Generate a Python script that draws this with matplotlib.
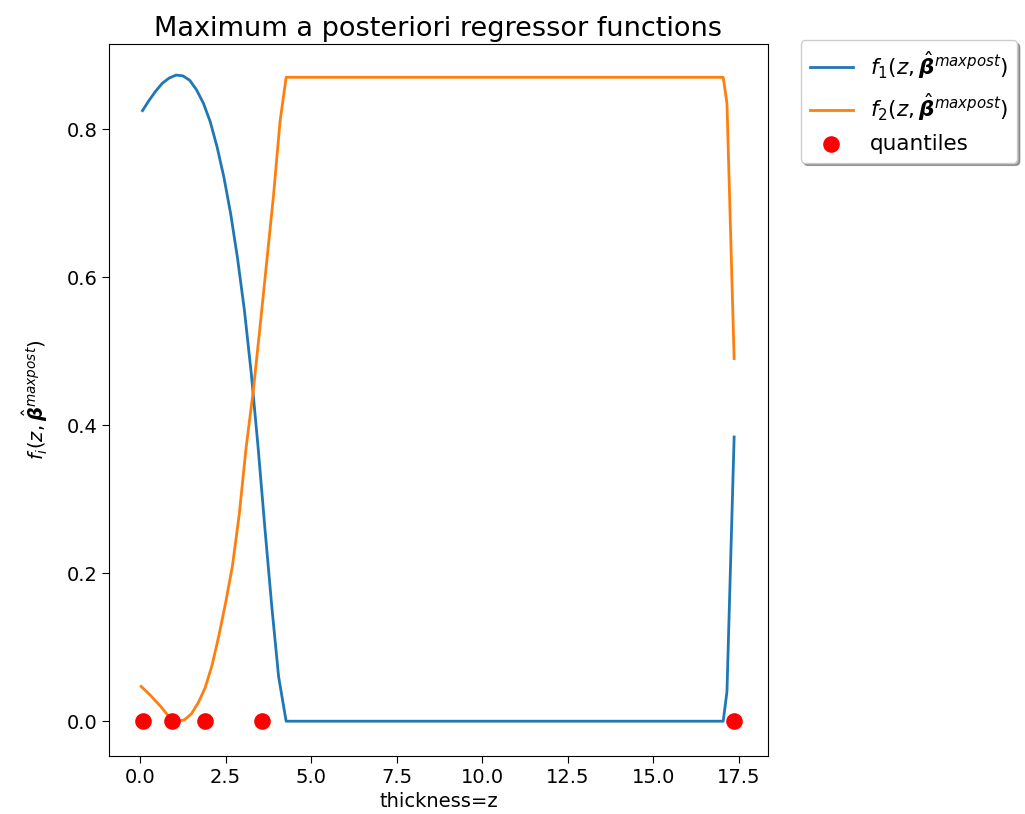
import numpy as np
import matplotlib.pyplot as plt

# f1 curve (blue)
z1 = [0.07, 0.25, 0.45, 0.65, 0.85, 1.05, 1.25, 1.45, 1.65, 1.85, 2.05, 2.25, 2.45, 2.65,
      2.85, 3.05, 3.25, 3.45, 3.65, 3.85, 4.05, 4.27, 17.05, 17.16, 17.37]
f1 = [0.825, 0.838, 0.851, 0.862, 0.869, 0.873, 0.872, 0.866, 0.853, 0.835, 0.81, 0.776, 0.735, 0.685,
      0.625, 0.555, 0.47, 0.37, 0.26, 0.155, 0.06, 0.0, 0.0, 0.04, 0.384]

# f2 curve (orange)
z2 = [0.03, 0.3, 0.6, 0.9, 1.1, 1.3, 1.5, 1.7, 1.9, 2.1, 2.3, 2.5, 2.7, 2.9, 3.1, 3.3,
      3.5, 3.7, 3.9, 4.09, 4.27, 17.05, 17.16, 17.37]
f2 = [0.047, 0.035, 0.02, 0.003, 0.0, 0.002, 0.01, 0.025, 0.045, 0.075, 0.115, 0.16, 0.21, 0.28, 0.37, 0.443,
      0.53, 0.62, 0.71, 0.81, 0.87, 0.87, 0.835, 0.49]

quantiles = [0.09, 0.94, 1.9, 3.57, 17.37]

W, H = 1025, 814
fig = plt.figure(figsize=(W / 100, H / 100), dpi=100)
ax = fig.add_axes([109 / W, (H - 756) / H, 659 / W, 712 / H])

ax.plot(z1, f1, lw=2, label=r'$f_1(z,\hat{\boldsymbol{\beta}}^{maxpost})$')
ax.plot(z2, f2, lw=2, label=r'$f_2(z,\hat{\boldsymbol{\beta}}^{maxpost})$')
ax.scatter(quantiles, np.zeros(len(quantiles)), color='red', s=120, label='quantiles', zorder=3)

ax.set_xlim(-0.91, 18.36)
ax.set_ylim(-0.047, 0.915)
ax.set_xticks([0, 2.5, 5, 7.5, 10, 12.5, 15, 17.5])
ax.set_yticks([0, 0.2, 0.4, 0.6, 0.8])
ax.tick_params(labelsize=14, length=5)

ax.set_title('Maximum a posteriori regressor functions', fontsize=19.5)
ax.set_xlabel('thickness=z', fontsize=14)
ax.set_ylabel(r'$f_i(z,\hat{\boldsymbol{\beta}}^{maxpost})$', fontsize=14, labelpad=12)

ax.legend(bbox_to_anchor=(1.05, 1.005), loc='upper left', borderaxespad=0., shadow=True, fontsize=15.5)

fig.savefig('out.png', dpi=100)
